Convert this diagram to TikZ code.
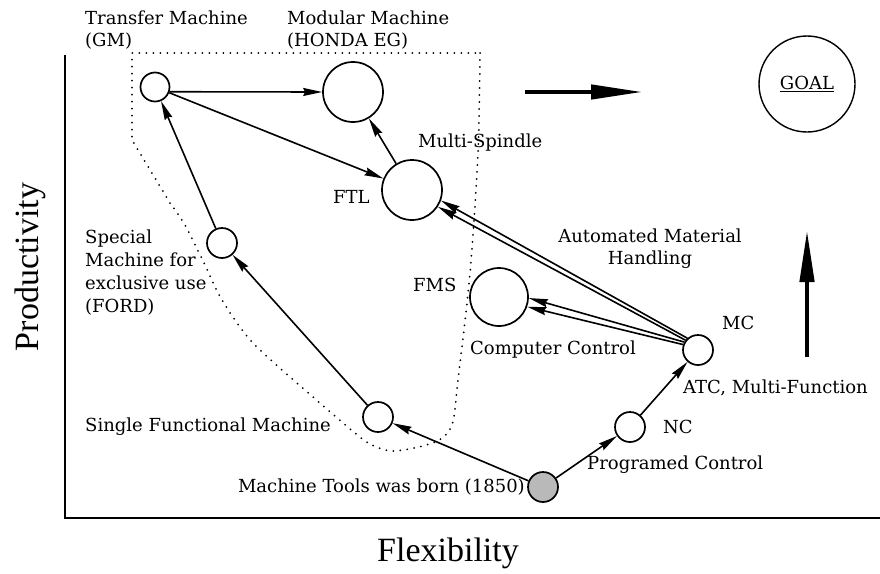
\documentclass[tikz,border=0pt]{standalone}
\usepackage{fontspec}
\setmainfont{DejaVu Serif}
\newfontfamily\axisfont{Liberation Serif}
\usetikzlibrary{arrows.meta}
\begin{document}
\begin{tikzpicture}[x=1pt,y=-1pt,
  mnode/.style={circle, draw, line width=1.7pt, inner sep=0pt, fill=white},
  flow/.style={line width=1.6pt, -{Stealth[length=19pt,width=8pt,inset=2pt]}},
  lbl/.style={font=\fontsize{18}{22}\selectfont, inner sep=0pt, align=left},
  bigarrow/.style={line width=4.5pt, -{Stealth[length=52pt,width=14pt,inset=0pt]}},
  dotline/.style={line width=2pt, dash pattern=on 0pt off 7pt, line cap=round},
  axisline/.style={line width=2pt}]
\useasboundingbox (0,0) rectangle (880,573);

% axes
\coordinate (top) at (65,55);
\coordinate (origin) at (65,518);
\coordinate (right) at (880,518);
\draw[axisline] (top) -- (origin) -- (right);
\node[font=\axisfont\fontsize{34}{40}\selectfont, rotate=90] (ylab) at (30,267) {Productivity};
\node[font=\axisfont\fontsize{34}{40}\selectfont] (xlab) at (448,553) {Flexibility};

% dotted boundary of the mass-production region
\draw[dotline] (170,203) -- (132,140) -- (132,53) -- (480,53);
\draw[dotline] plot[smooth, tension=0.5] coordinates {(480,53) (478,153) (470,273) (458,380) (452,425) (435,442) (395,451) (372,445) (355,433) (313,397) (253,343) (222,300) (205,265) (185,225) (170,203)};

% machines
\node[mnode, minimum size=29pt] (tm) at (155,87) {};
\node[mnode, minimum size=60pt] (mm) at (353,92) {};
\node[mnode, minimum size=60pt] (ftl) at (412,190) {};
\node[mnode, minimum size=30pt] (sm) at (222,243) {};
\node[mnode, minimum size=30pt] (sf) at (378,417) {};
\node[mnode, minimum size=58pt] (fms) at (499,297) {};
\node[mnode, minimum size=30pt] (mc) at (698,350) {};
\node[mnode, minimum size=30pt] (nc) at (630,427) {};
\node[mnode, minimum size=30pt, fill=gray!55] (born) at (543,487) {};
\node[circle, draw, line width=1.4pt, inner sep=0pt, minimum size=96pt] (goal) at (807,84) {};
\node[lbl] (goaltxt) at (goal) {\underline{GOAL}};

% development paths
\draw[flow] (born) -- (sf);
\draw[flow] (sf) -- (sm);
\draw[flow] (sm) -- (tm);
\draw[flow] (tm.-18) -- (mm.180);
\draw[flow] (tm) -- (ftl);
\draw[flow] (ftl) -- (mm);
\draw[flow] (born) -- (nc);
\draw[flow] (nc) -- (mc);
\draw[flow] (mc.132) -- (ftl.-20);
\draw[flow] (mc.142) -- (ftl.-33);
\draw[flow] (mc.150) -- (fms.-2);
\draw[flow] (mc.160) -- (fms.-19);

% trend arrows
\coordinate (ra) at (525,92);
\coordinate (rb) at (643,92);
\draw[bigarrow] (ra) -- (rb);
\coordinate (ua) at (807,357);
\coordinate (ub) at (807,230);
\draw[bigarrow] (ua) -- (ub);

% labels
\node[lbl, anchor=west] (l1) at (85,30) {Transfer Machine\\(GM)};
\node[lbl, anchor=west] (l2) at (287,30) {Modular Machine\\(HONDA EG)};
\node[lbl, anchor=west] (l3) at (418,143) {Multi-Spindle};
\node[lbl, anchor=west] (l4) at (333,197) {FTL};
\node[lbl, anchor=west, font=\fontsize{18}{23}\selectfont] (l5) at (85,273) {Special\\Machine for\\exclusive use\\(FORD)};
\node[lbl, anchor=west] (l6) at (413,285) {FMS};
\node[lbl, align=center] (l7) at (650,249) {Automated Material\\Handling};
\node[lbl, anchor=west] (l8) at (470,350) {Computer Control};
\node[lbl, anchor=west] (l9) at (722,323) {MC};
\node[lbl, anchor=west] (l10) at (683,388) {ATC, Multi-Function};
\node[lbl, anchor=west] (l11) at (663,427) {NC};
\node[lbl, anchor=west] (l12) at (587,465) {Programed Control};
\node[lbl, anchor=east] (l13) at (525,487) {Machine Tools was born (1850)};
\node[lbl, anchor=west] (l14) at (85,427) {Single Functional Machine};
\end{tikzpicture}
\end{document}
